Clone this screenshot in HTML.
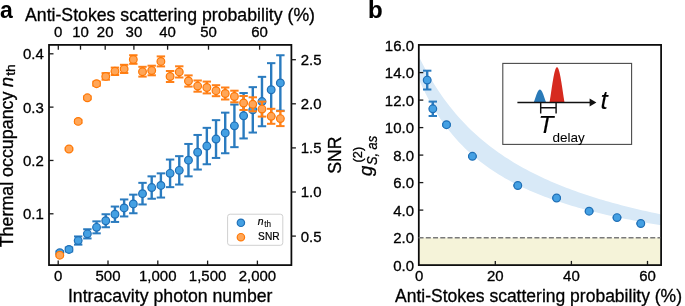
<!DOCTYPE html>
<html><head><meta charset="utf-8"><style>html,body{margin:0;padding:0;background:#fff;}svg{display:block;will-change:transform;}text{stroke:#000;stroke-width:0.3px;}</style></head>
<body>
<svg width="685" height="306" viewBox="0 0 685 306" font-family="Liberation Sans" fill="#000">
<rect width="685" height="306" fill="#fff"/>
<text x="0.00" y="17.60" font-size="23" text-anchor="start" font-weight="bold" font-style="normal" style="stroke-width:0">a</text>
<text x="368.00" y="18.00" font-size="24" text-anchor="start" font-weight="bold" font-style="normal" style="stroke-width:0.15px">b</text>
<line x1="59.80" y1="251.25" x2="59.80" y2="254.25" stroke="#2a7bbf" stroke-width="2.4"/>
<line x1="55.60" y1="251.25" x2="64.00" y2="251.25" stroke="#2a7bbf" stroke-width="2.0"/>
<line x1="55.60" y1="254.25" x2="64.00" y2="254.25" stroke="#2a7bbf" stroke-width="2.0"/>
<line x1="68.99" y1="247.45" x2="68.99" y2="251.45" stroke="#2a7bbf" stroke-width="2.4"/>
<line x1="64.79" y1="247.45" x2="73.19" y2="247.45" stroke="#2a7bbf" stroke-width="2.0"/>
<line x1="64.79" y1="251.45" x2="73.19" y2="251.45" stroke="#2a7bbf" stroke-width="2.0"/>
<line x1="78.18" y1="236.45" x2="78.18" y2="244.65" stroke="#2a7bbf" stroke-width="2.4"/>
<line x1="73.98" y1="236.45" x2="82.38" y2="236.45" stroke="#2a7bbf" stroke-width="2.0"/>
<line x1="73.98" y1="244.65" x2="82.38" y2="244.65" stroke="#2a7bbf" stroke-width="2.0"/>
<line x1="87.37" y1="229.25" x2="87.37" y2="238.45" stroke="#2a7bbf" stroke-width="2.4"/>
<line x1="83.17" y1="229.25" x2="91.57" y2="229.25" stroke="#2a7bbf" stroke-width="2.0"/>
<line x1="83.17" y1="238.45" x2="91.57" y2="238.45" stroke="#2a7bbf" stroke-width="2.0"/>
<line x1="96.56" y1="221.35" x2="96.56" y2="233.35" stroke="#2a7bbf" stroke-width="2.4"/>
<line x1="92.36" y1="221.35" x2="100.76" y2="221.35" stroke="#2a7bbf" stroke-width="2.0"/>
<line x1="92.36" y1="233.35" x2="100.76" y2="233.35" stroke="#2a7bbf" stroke-width="2.0"/>
<line x1="105.75" y1="214.25" x2="105.75" y2="227.25" stroke="#2a7bbf" stroke-width="2.4"/>
<line x1="101.55" y1="214.25" x2="109.95" y2="214.25" stroke="#2a7bbf" stroke-width="2.0"/>
<line x1="101.55" y1="227.25" x2="109.95" y2="227.25" stroke="#2a7bbf" stroke-width="2.0"/>
<line x1="114.94" y1="206.55" x2="114.94" y2="221.95" stroke="#2a7bbf" stroke-width="2.4"/>
<line x1="110.74" y1="206.55" x2="119.14" y2="206.55" stroke="#2a7bbf" stroke-width="2.0"/>
<line x1="110.74" y1="221.95" x2="119.14" y2="221.95" stroke="#2a7bbf" stroke-width="2.0"/>
<line x1="124.13" y1="199.45" x2="124.13" y2="216.45" stroke="#2a7bbf" stroke-width="2.4"/>
<line x1="119.93" y1="199.45" x2="128.33" y2="199.45" stroke="#2a7bbf" stroke-width="2.0"/>
<line x1="119.93" y1="216.45" x2="128.33" y2="216.45" stroke="#2a7bbf" stroke-width="2.0"/>
<line x1="133.32" y1="194.65" x2="133.32" y2="213.25" stroke="#2a7bbf" stroke-width="2.4"/>
<line x1="129.12" y1="194.65" x2="137.52" y2="194.65" stroke="#2a7bbf" stroke-width="2.0"/>
<line x1="129.12" y1="213.25" x2="137.52" y2="213.25" stroke="#2a7bbf" stroke-width="2.0"/>
<line x1="142.51" y1="182.85" x2="142.51" y2="204.45" stroke="#2a7bbf" stroke-width="2.4"/>
<line x1="138.31" y1="182.85" x2="146.71" y2="182.85" stroke="#2a7bbf" stroke-width="2.0"/>
<line x1="138.31" y1="204.45" x2="146.71" y2="204.45" stroke="#2a7bbf" stroke-width="2.0"/>
<line x1="151.70" y1="176.35" x2="151.70" y2="198.75" stroke="#2a7bbf" stroke-width="2.4"/>
<line x1="147.50" y1="176.35" x2="155.90" y2="176.35" stroke="#2a7bbf" stroke-width="2.0"/>
<line x1="147.50" y1="198.75" x2="155.90" y2="198.75" stroke="#2a7bbf" stroke-width="2.0"/>
<line x1="160.89" y1="173.35" x2="160.89" y2="197.55" stroke="#2a7bbf" stroke-width="2.4"/>
<line x1="156.69" y1="173.35" x2="165.09" y2="173.35" stroke="#2a7bbf" stroke-width="2.0"/>
<line x1="156.69" y1="197.55" x2="165.09" y2="197.55" stroke="#2a7bbf" stroke-width="2.0"/>
<line x1="170.08" y1="159.55" x2="170.08" y2="187.15" stroke="#2a7bbf" stroke-width="2.4"/>
<line x1="165.88" y1="159.55" x2="174.28" y2="159.55" stroke="#2a7bbf" stroke-width="2.0"/>
<line x1="165.88" y1="187.15" x2="174.28" y2="187.15" stroke="#2a7bbf" stroke-width="2.0"/>
<line x1="179.27" y1="156.15" x2="179.27" y2="184.55" stroke="#2a7bbf" stroke-width="2.4"/>
<line x1="175.07" y1="156.15" x2="183.47" y2="156.15" stroke="#2a7bbf" stroke-width="2.0"/>
<line x1="175.07" y1="184.55" x2="183.47" y2="184.55" stroke="#2a7bbf" stroke-width="2.0"/>
<line x1="188.46" y1="143.95" x2="188.46" y2="176.35" stroke="#2a7bbf" stroke-width="2.4"/>
<line x1="184.26" y1="143.95" x2="192.66" y2="143.95" stroke="#2a7bbf" stroke-width="2.0"/>
<line x1="184.26" y1="176.35" x2="192.66" y2="176.35" stroke="#2a7bbf" stroke-width="2.0"/>
<line x1="197.65" y1="134.95" x2="197.65" y2="169.55" stroke="#2a7bbf" stroke-width="2.4"/>
<line x1="193.45" y1="134.95" x2="201.85" y2="134.95" stroke="#2a7bbf" stroke-width="2.0"/>
<line x1="193.45" y1="169.55" x2="201.85" y2="169.55" stroke="#2a7bbf" stroke-width="2.0"/>
<line x1="206.84" y1="127.85" x2="206.84" y2="164.25" stroke="#2a7bbf" stroke-width="2.4"/>
<line x1="202.64" y1="127.85" x2="211.04" y2="127.85" stroke="#2a7bbf" stroke-width="2.0"/>
<line x1="202.64" y1="164.25" x2="211.04" y2="164.25" stroke="#2a7bbf" stroke-width="2.0"/>
<line x1="216.03" y1="120.15" x2="216.03" y2="157.95" stroke="#2a7bbf" stroke-width="2.4"/>
<line x1="211.83" y1="120.15" x2="220.23" y2="120.15" stroke="#2a7bbf" stroke-width="2.0"/>
<line x1="211.83" y1="157.95" x2="220.23" y2="157.95" stroke="#2a7bbf" stroke-width="2.0"/>
<line x1="225.22" y1="112.65" x2="225.22" y2="153.25" stroke="#2a7bbf" stroke-width="2.4"/>
<line x1="221.02" y1="112.65" x2="229.42" y2="112.65" stroke="#2a7bbf" stroke-width="2.0"/>
<line x1="221.02" y1="153.25" x2="229.42" y2="153.25" stroke="#2a7bbf" stroke-width="2.0"/>
<line x1="234.41" y1="104.55" x2="234.41" y2="147.15" stroke="#2a7bbf" stroke-width="2.4"/>
<line x1="230.21" y1="104.55" x2="238.61" y2="104.55" stroke="#2a7bbf" stroke-width="2.0"/>
<line x1="230.21" y1="147.15" x2="238.61" y2="147.15" stroke="#2a7bbf" stroke-width="2.0"/>
<line x1="243.60" y1="93.05" x2="243.60" y2="138.45" stroke="#2a7bbf" stroke-width="2.4"/>
<line x1="239.40" y1="93.05" x2="247.80" y2="93.05" stroke="#2a7bbf" stroke-width="2.0"/>
<line x1="239.40" y1="138.45" x2="247.80" y2="138.45" stroke="#2a7bbf" stroke-width="2.0"/>
<line x1="252.79" y1="87.15" x2="252.79" y2="132.55" stroke="#2a7bbf" stroke-width="2.4"/>
<line x1="248.59" y1="87.15" x2="256.99" y2="87.15" stroke="#2a7bbf" stroke-width="2.0"/>
<line x1="248.59" y1="132.55" x2="256.99" y2="132.55" stroke="#2a7bbf" stroke-width="2.0"/>
<line x1="261.98" y1="76.85" x2="261.98" y2="126.25" stroke="#2a7bbf" stroke-width="2.4"/>
<line x1="257.78" y1="76.85" x2="266.18" y2="76.85" stroke="#2a7bbf" stroke-width="2.0"/>
<line x1="257.78" y1="126.25" x2="266.18" y2="126.25" stroke="#2a7bbf" stroke-width="2.0"/>
<line x1="271.17" y1="63.15" x2="271.17" y2="116.35" stroke="#2a7bbf" stroke-width="2.4"/>
<line x1="266.97" y1="63.15" x2="275.37" y2="63.15" stroke="#2a7bbf" stroke-width="2.0"/>
<line x1="266.97" y1="116.35" x2="275.37" y2="116.35" stroke="#2a7bbf" stroke-width="2.0"/>
<line x1="280.36" y1="55.25" x2="280.36" y2="110.65" stroke="#2a7bbf" stroke-width="2.4"/>
<line x1="276.16" y1="55.25" x2="284.56" y2="55.25" stroke="#2a7bbf" stroke-width="2.0"/>
<line x1="276.16" y1="110.65" x2="284.56" y2="110.65" stroke="#2a7bbf" stroke-width="2.0"/>
<circle cx="59.80" cy="252.75" r="3.85" fill="#44a0e3" stroke="#1f6fb6" stroke-width="1.2"/>
<circle cx="68.99" cy="249.45" r="3.85" fill="#44a0e3" stroke="#1f6fb6" stroke-width="1.2"/>
<circle cx="78.18" cy="240.55" r="3.85" fill="#44a0e3" stroke="#1f6fb6" stroke-width="1.2"/>
<circle cx="87.37" cy="233.85" r="3.85" fill="#44a0e3" stroke="#1f6fb6" stroke-width="1.2"/>
<circle cx="96.56" cy="227.35" r="3.85" fill="#44a0e3" stroke="#1f6fb6" stroke-width="1.2"/>
<circle cx="105.75" cy="220.75" r="3.85" fill="#44a0e3" stroke="#1f6fb6" stroke-width="1.2"/>
<circle cx="114.94" cy="214.25" r="3.85" fill="#44a0e3" stroke="#1f6fb6" stroke-width="1.2"/>
<circle cx="124.13" cy="207.95" r="3.85" fill="#44a0e3" stroke="#1f6fb6" stroke-width="1.2"/>
<circle cx="133.32" cy="203.95" r="3.85" fill="#44a0e3" stroke="#1f6fb6" stroke-width="1.2"/>
<circle cx="142.51" cy="193.65" r="3.85" fill="#44a0e3" stroke="#1f6fb6" stroke-width="1.2"/>
<circle cx="151.70" cy="187.55" r="3.85" fill="#44a0e3" stroke="#1f6fb6" stroke-width="1.2"/>
<circle cx="160.89" cy="185.45" r="3.85" fill="#44a0e3" stroke="#1f6fb6" stroke-width="1.2"/>
<circle cx="170.08" cy="173.35" r="3.85" fill="#44a0e3" stroke="#1f6fb6" stroke-width="1.2"/>
<circle cx="179.27" cy="170.35" r="3.85" fill="#44a0e3" stroke="#1f6fb6" stroke-width="1.2"/>
<circle cx="188.46" cy="160.15" r="3.85" fill="#44a0e3" stroke="#1f6fb6" stroke-width="1.2"/>
<circle cx="197.65" cy="152.25" r="3.85" fill="#44a0e3" stroke="#1f6fb6" stroke-width="1.2"/>
<circle cx="206.84" cy="146.05" r="3.85" fill="#44a0e3" stroke="#1f6fb6" stroke-width="1.2"/>
<circle cx="216.03" cy="139.05" r="3.85" fill="#44a0e3" stroke="#1f6fb6" stroke-width="1.2"/>
<circle cx="225.22" cy="132.95" r="3.85" fill="#44a0e3" stroke="#1f6fb6" stroke-width="1.2"/>
<circle cx="234.41" cy="125.85" r="3.85" fill="#44a0e3" stroke="#1f6fb6" stroke-width="1.2"/>
<circle cx="243.60" cy="115.75" r="3.85" fill="#44a0e3" stroke="#1f6fb6" stroke-width="1.2"/>
<circle cx="252.79" cy="109.85" r="3.85" fill="#44a0e3" stroke="#1f6fb6" stroke-width="1.2"/>
<circle cx="261.98" cy="101.55" r="3.85" fill="#44a0e3" stroke="#1f6fb6" stroke-width="1.2"/>
<circle cx="271.17" cy="89.75" r="3.85" fill="#44a0e3" stroke="#1f6fb6" stroke-width="1.2"/>
<circle cx="280.36" cy="82.95" r="3.85" fill="#44a0e3" stroke="#1f6fb6" stroke-width="1.2"/>
<line x1="59.80" y1="254.20" x2="59.80" y2="256.20" stroke="#ff8018" stroke-width="2.4"/>
<line x1="55.60" y1="254.20" x2="64.00" y2="254.20" stroke="#ff8018" stroke-width="2.0"/>
<line x1="55.60" y1="256.20" x2="64.00" y2="256.20" stroke="#ff8018" stroke-width="2.0"/>
<line x1="68.99" y1="148.00" x2="68.99" y2="150.00" stroke="#ff8018" stroke-width="2.4"/>
<line x1="64.79" y1="148.00" x2="73.19" y2="148.00" stroke="#ff8018" stroke-width="2.0"/>
<line x1="64.79" y1="150.00" x2="73.19" y2="150.00" stroke="#ff8018" stroke-width="2.0"/>
<line x1="78.18" y1="119.90" x2="78.18" y2="122.90" stroke="#ff8018" stroke-width="2.4"/>
<line x1="73.98" y1="119.90" x2="82.38" y2="119.90" stroke="#ff8018" stroke-width="2.0"/>
<line x1="73.98" y1="122.90" x2="82.38" y2="122.90" stroke="#ff8018" stroke-width="2.0"/>
<line x1="87.37" y1="96.30" x2="87.37" y2="99.30" stroke="#ff8018" stroke-width="2.4"/>
<line x1="83.17" y1="96.30" x2="91.57" y2="96.30" stroke="#ff8018" stroke-width="2.0"/>
<line x1="83.17" y1="99.30" x2="91.57" y2="99.30" stroke="#ff8018" stroke-width="2.0"/>
<line x1="96.56" y1="81.70" x2="96.56" y2="85.70" stroke="#ff8018" stroke-width="2.4"/>
<line x1="92.36" y1="81.70" x2="100.76" y2="81.70" stroke="#ff8018" stroke-width="2.0"/>
<line x1="92.36" y1="85.70" x2="100.76" y2="85.70" stroke="#ff8018" stroke-width="2.0"/>
<line x1="105.75" y1="73.10" x2="105.75" y2="79.70" stroke="#ff8018" stroke-width="2.4"/>
<line x1="101.55" y1="73.10" x2="109.95" y2="73.10" stroke="#ff8018" stroke-width="2.0"/>
<line x1="101.55" y1="79.70" x2="109.95" y2="79.70" stroke="#ff8018" stroke-width="2.0"/>
<line x1="114.94" y1="67.60" x2="114.94" y2="75.00" stroke="#ff8018" stroke-width="2.4"/>
<line x1="110.74" y1="67.60" x2="119.14" y2="67.60" stroke="#ff8018" stroke-width="2.0"/>
<line x1="110.74" y1="75.00" x2="119.14" y2="75.00" stroke="#ff8018" stroke-width="2.0"/>
<line x1="124.13" y1="64.80" x2="124.13" y2="73.00" stroke="#ff8018" stroke-width="2.4"/>
<line x1="119.93" y1="64.80" x2="128.33" y2="64.80" stroke="#ff8018" stroke-width="2.0"/>
<line x1="119.93" y1="73.00" x2="128.33" y2="73.00" stroke="#ff8018" stroke-width="2.0"/>
<line x1="133.32" y1="55.20" x2="133.32" y2="63.80" stroke="#ff8018" stroke-width="2.4"/>
<line x1="129.12" y1="55.20" x2="137.52" y2="55.20" stroke="#ff8018" stroke-width="2.0"/>
<line x1="129.12" y1="63.80" x2="137.52" y2="63.80" stroke="#ff8018" stroke-width="2.0"/>
<line x1="142.51" y1="66.80" x2="142.51" y2="76.60" stroke="#ff8018" stroke-width="2.4"/>
<line x1="138.31" y1="66.80" x2="146.71" y2="66.80" stroke="#ff8018" stroke-width="2.0"/>
<line x1="138.31" y1="76.60" x2="146.71" y2="76.60" stroke="#ff8018" stroke-width="2.0"/>
<line x1="151.70" y1="65.70" x2="151.70" y2="75.30" stroke="#ff8018" stroke-width="2.4"/>
<line x1="147.50" y1="65.70" x2="155.90" y2="65.70" stroke="#ff8018" stroke-width="2.0"/>
<line x1="147.50" y1="75.30" x2="155.90" y2="75.30" stroke="#ff8018" stroke-width="2.0"/>
<line x1="160.89" y1="56.40" x2="160.89" y2="66.40" stroke="#ff8018" stroke-width="2.4"/>
<line x1="156.69" y1="56.40" x2="165.09" y2="56.40" stroke="#ff8018" stroke-width="2.0"/>
<line x1="156.69" y1="66.40" x2="165.09" y2="66.40" stroke="#ff8018" stroke-width="2.0"/>
<line x1="170.08" y1="71.00" x2="170.08" y2="82.00" stroke="#ff8018" stroke-width="2.4"/>
<line x1="165.88" y1="71.00" x2="174.28" y2="71.00" stroke="#ff8018" stroke-width="2.0"/>
<line x1="165.88" y1="82.00" x2="174.28" y2="82.00" stroke="#ff8018" stroke-width="2.0"/>
<line x1="179.27" y1="66.30" x2="179.27" y2="77.50" stroke="#ff8018" stroke-width="2.4"/>
<line x1="175.07" y1="66.30" x2="183.47" y2="66.30" stroke="#ff8018" stroke-width="2.0"/>
<line x1="175.07" y1="77.50" x2="183.47" y2="77.50" stroke="#ff8018" stroke-width="2.0"/>
<line x1="188.46" y1="75.40" x2="188.46" y2="86.60" stroke="#ff8018" stroke-width="2.4"/>
<line x1="184.26" y1="75.40" x2="192.66" y2="75.40" stroke="#ff8018" stroke-width="2.0"/>
<line x1="184.26" y1="86.60" x2="192.66" y2="86.60" stroke="#ff8018" stroke-width="2.0"/>
<line x1="197.65" y1="80.50" x2="197.65" y2="91.70" stroke="#ff8018" stroke-width="2.4"/>
<line x1="193.45" y1="80.50" x2="201.85" y2="80.50" stroke="#ff8018" stroke-width="2.0"/>
<line x1="193.45" y1="91.70" x2="201.85" y2="91.70" stroke="#ff8018" stroke-width="2.0"/>
<line x1="206.84" y1="81.60" x2="206.84" y2="93.40" stroke="#ff8018" stroke-width="2.4"/>
<line x1="202.64" y1="81.60" x2="211.04" y2="81.60" stroke="#ff8018" stroke-width="2.0"/>
<line x1="202.64" y1="93.40" x2="211.04" y2="93.40" stroke="#ff8018" stroke-width="2.0"/>
<line x1="216.03" y1="85.20" x2="216.03" y2="96.20" stroke="#ff8018" stroke-width="2.4"/>
<line x1="211.83" y1="85.20" x2="220.23" y2="85.20" stroke="#ff8018" stroke-width="2.0"/>
<line x1="211.83" y1="96.20" x2="220.23" y2="96.20" stroke="#ff8018" stroke-width="2.0"/>
<line x1="225.22" y1="87.50" x2="225.22" y2="99.50" stroke="#ff8018" stroke-width="2.4"/>
<line x1="221.02" y1="87.50" x2="229.42" y2="87.50" stroke="#ff8018" stroke-width="2.0"/>
<line x1="221.02" y1="99.50" x2="229.42" y2="99.50" stroke="#ff8018" stroke-width="2.0"/>
<line x1="234.41" y1="90.70" x2="234.41" y2="102.30" stroke="#ff8018" stroke-width="2.4"/>
<line x1="230.21" y1="90.70" x2="238.61" y2="90.70" stroke="#ff8018" stroke-width="2.0"/>
<line x1="230.21" y1="102.30" x2="238.61" y2="102.30" stroke="#ff8018" stroke-width="2.0"/>
<line x1="243.60" y1="96.00" x2="243.60" y2="110.00" stroke="#ff8018" stroke-width="2.4"/>
<line x1="239.40" y1="96.00" x2="247.80" y2="96.00" stroke="#ff8018" stroke-width="2.0"/>
<line x1="239.40" y1="110.00" x2="247.80" y2="110.00" stroke="#ff8018" stroke-width="2.0"/>
<line x1="252.79" y1="97.30" x2="252.79" y2="111.30" stroke="#ff8018" stroke-width="2.4"/>
<line x1="248.59" y1="97.30" x2="256.99" y2="97.30" stroke="#ff8018" stroke-width="2.0"/>
<line x1="248.59" y1="111.30" x2="256.99" y2="111.30" stroke="#ff8018" stroke-width="2.0"/>
<line x1="261.98" y1="101.60" x2="261.98" y2="116.60" stroke="#ff8018" stroke-width="2.4"/>
<line x1="257.78" y1="101.60" x2="266.18" y2="101.60" stroke="#ff8018" stroke-width="2.0"/>
<line x1="257.78" y1="116.60" x2="266.18" y2="116.60" stroke="#ff8018" stroke-width="2.0"/>
<line x1="271.17" y1="108.80" x2="271.17" y2="123.80" stroke="#ff8018" stroke-width="2.4"/>
<line x1="266.97" y1="108.80" x2="275.37" y2="108.80" stroke="#ff8018" stroke-width="2.0"/>
<line x1="266.97" y1="123.80" x2="275.37" y2="123.80" stroke="#ff8018" stroke-width="2.0"/>
<line x1="280.36" y1="111.10" x2="280.36" y2="126.10" stroke="#ff8018" stroke-width="2.4"/>
<line x1="276.16" y1="111.10" x2="284.56" y2="111.10" stroke="#ff8018" stroke-width="2.0"/>
<line x1="276.16" y1="126.10" x2="284.56" y2="126.10" stroke="#ff8018" stroke-width="2.0"/>
<circle cx="59.80" cy="255.20" r="3.85" fill="#ffa658" stroke="#ff7806" stroke-width="1.2"/>
<circle cx="68.99" cy="149.00" r="3.85" fill="#ffa658" stroke="#ff7806" stroke-width="1.2"/>
<circle cx="78.18" cy="121.40" r="3.85" fill="#ffa658" stroke="#ff7806" stroke-width="1.2"/>
<circle cx="87.37" cy="97.80" r="3.85" fill="#ffa658" stroke="#ff7806" stroke-width="1.2"/>
<circle cx="96.56" cy="83.70" r="3.85" fill="#ffa658" stroke="#ff7806" stroke-width="1.2"/>
<circle cx="105.75" cy="76.40" r="3.85" fill="#ffa658" stroke="#ff7806" stroke-width="1.2"/>
<circle cx="114.94" cy="71.30" r="3.85" fill="#ffa658" stroke="#ff7806" stroke-width="1.2"/>
<circle cx="124.13" cy="68.90" r="3.85" fill="#ffa658" stroke="#ff7806" stroke-width="1.2"/>
<circle cx="133.32" cy="59.50" r="3.85" fill="#ffa658" stroke="#ff7806" stroke-width="1.2"/>
<circle cx="142.51" cy="71.70" r="3.85" fill="#ffa658" stroke="#ff7806" stroke-width="1.2"/>
<circle cx="151.70" cy="70.50" r="3.85" fill="#ffa658" stroke="#ff7806" stroke-width="1.2"/>
<circle cx="160.89" cy="61.40" r="3.85" fill="#ffa658" stroke="#ff7806" stroke-width="1.2"/>
<circle cx="170.08" cy="76.50" r="3.85" fill="#ffa658" stroke="#ff7806" stroke-width="1.2"/>
<circle cx="179.27" cy="71.90" r="3.85" fill="#ffa658" stroke="#ff7806" stroke-width="1.2"/>
<circle cx="188.46" cy="81.00" r="3.85" fill="#ffa658" stroke="#ff7806" stroke-width="1.2"/>
<circle cx="197.65" cy="86.10" r="3.85" fill="#ffa658" stroke="#ff7806" stroke-width="1.2"/>
<circle cx="206.84" cy="87.50" r="3.85" fill="#ffa658" stroke="#ff7806" stroke-width="1.2"/>
<circle cx="216.03" cy="90.70" r="3.85" fill="#ffa658" stroke="#ff7806" stroke-width="1.2"/>
<circle cx="225.22" cy="93.50" r="3.85" fill="#ffa658" stroke="#ff7806" stroke-width="1.2"/>
<circle cx="234.41" cy="96.50" r="3.85" fill="#ffa658" stroke="#ff7806" stroke-width="1.2"/>
<circle cx="243.60" cy="103.00" r="3.85" fill="#ffa658" stroke="#ff7806" stroke-width="1.2"/>
<circle cx="252.79" cy="104.30" r="3.85" fill="#ffa658" stroke="#ff7806" stroke-width="1.2"/>
<circle cx="261.98" cy="109.10" r="3.85" fill="#ffa658" stroke="#ff7806" stroke-width="1.2"/>
<circle cx="271.17" cy="116.30" r="3.85" fill="#ffa658" stroke="#ff7806" stroke-width="1.2"/>
<circle cx="280.36" cy="118.60" r="3.85" fill="#ffa658" stroke="#ff7806" stroke-width="1.2"/>
<rect x="49.0" y="44.9" width="242.39999999999998" height="220.20000000000002" fill="none" stroke="#0a0a0a" stroke-width="1.75"/>
<line x1="58.20" y1="265.1" x2="58.20" y2="260.6" stroke="#1a1a1a" stroke-width="1.3"/>
<text transform="translate(0,275.63) scale(1,1.035) translate(0,-275.63)" x="58.20" y="281.00" font-size="15" text-anchor="middle">0</text>
<line x1="108.00" y1="265.1" x2="108.00" y2="260.6" stroke="#1a1a1a" stroke-width="1.3"/>
<text transform="translate(0,275.63) scale(1,1.035) translate(0,-275.63)" x="108.00" y="281.00" font-size="15" text-anchor="middle">500</text>
<line x1="157.80" y1="265.1" x2="157.80" y2="260.6" stroke="#1a1a1a" stroke-width="1.3"/>
<text transform="translate(0,275.63) scale(1,1.035) translate(0,-275.63)" x="157.80" y="281.00" font-size="15" text-anchor="middle">1,000</text>
<line x1="207.60" y1="265.1" x2="207.60" y2="260.6" stroke="#1a1a1a" stroke-width="1.3"/>
<text transform="translate(0,275.63) scale(1,1.035) translate(0,-275.63)" x="207.60" y="281.00" font-size="15" text-anchor="middle">1,500</text>
<line x1="257.40" y1="265.1" x2="257.40" y2="260.6" stroke="#1a1a1a" stroke-width="1.3"/>
<text transform="translate(0,275.63) scale(1,1.035) translate(0,-275.63)" x="257.40" y="281.00" font-size="15" text-anchor="middle">2,000</text>
<line x1="58.30" y1="44.9" x2="58.30" y2="49.699999999999996" stroke="#1a1a1a" stroke-width="1.3"/>
<text transform="translate(0,31.83) scale(1,1.035) translate(0,-31.83)" x="58.30" y="37.20" font-size="15" text-anchor="middle">0</text>
<line x1="80.50" y1="44.9" x2="80.50" y2="49.699999999999996" stroke="#1a1a1a" stroke-width="1.3"/>
<text transform="translate(0,31.83) scale(1,1.035) translate(0,-31.83)" x="80.50" y="37.20" font-size="15" text-anchor="middle">10</text>
<line x1="105.20" y1="44.9" x2="105.20" y2="49.699999999999996" stroke="#1a1a1a" stroke-width="1.3"/>
<text transform="translate(0,31.83) scale(1,1.035) translate(0,-31.83)" x="105.20" y="37.20" font-size="15" text-anchor="middle">20</text>
<line x1="133.90" y1="44.9" x2="133.90" y2="49.699999999999996" stroke="#1a1a1a" stroke-width="1.3"/>
<text transform="translate(0,31.83) scale(1,1.035) translate(0,-31.83)" x="133.90" y="37.20" font-size="15" text-anchor="middle">30</text>
<line x1="167.60" y1="44.9" x2="167.60" y2="49.699999999999996" stroke="#1a1a1a" stroke-width="1.3"/>
<text transform="translate(0,31.83) scale(1,1.035) translate(0,-31.83)" x="167.60" y="37.20" font-size="15" text-anchor="middle">40</text>
<line x1="208.50" y1="44.9" x2="208.50" y2="49.699999999999996" stroke="#1a1a1a" stroke-width="1.3"/>
<text transform="translate(0,31.83) scale(1,1.035) translate(0,-31.83)" x="208.50" y="37.20" font-size="15" text-anchor="middle">50</text>
<line x1="259.60" y1="44.9" x2="259.60" y2="49.699999999999996" stroke="#1a1a1a" stroke-width="1.3"/>
<text transform="translate(0,31.83) scale(1,1.035) translate(0,-31.83)" x="259.60" y="37.20" font-size="15" text-anchor="middle">60</text>
<line x1="49.0" y1="213.79" x2="53.5" y2="213.79" stroke="#1a1a1a" stroke-width="1.3"/>
<text transform="translate(0,213.72) scale(1,1.035) translate(0,-213.72)" x="43.80" y="219.09" font-size="15" text-anchor="end">0.1</text>
<line x1="49.0" y1="160.46" x2="53.5" y2="160.46" stroke="#1a1a1a" stroke-width="1.3"/>
<text transform="translate(0,160.39) scale(1,1.035) translate(0,-160.39)" x="43.80" y="165.76" font-size="15" text-anchor="end">0.2</text>
<line x1="49.0" y1="107.13" x2="53.5" y2="107.13" stroke="#1a1a1a" stroke-width="1.3"/>
<text transform="translate(0,107.06) scale(1,1.035) translate(0,-107.06)" x="43.80" y="112.43" font-size="15" text-anchor="end">0.3</text>
<line x1="49.0" y1="53.80" x2="53.5" y2="53.80" stroke="#1a1a1a" stroke-width="1.3"/>
<text transform="translate(0,53.73) scale(1,1.035) translate(0,-53.73)" x="43.80" y="59.10" font-size="15" text-anchor="end">0.4</text>
<line x1="291.4" y1="236.10" x2="295.9" y2="236.10" stroke="#1a1a1a" stroke-width="1.3"/>
<text transform="translate(0,236.03) scale(1,1.035) translate(0,-236.03)" x="300.80" y="241.40" font-size="15" text-anchor="start">0.5</text>
<line x1="291.4" y1="192.00" x2="295.9" y2="192.00" stroke="#1a1a1a" stroke-width="1.3"/>
<text transform="translate(0,191.93) scale(1,1.035) translate(0,-191.93)" x="300.80" y="197.30" font-size="15" text-anchor="start">1.0</text>
<line x1="291.4" y1="147.90" x2="295.9" y2="147.90" stroke="#1a1a1a" stroke-width="1.3"/>
<text transform="translate(0,147.83) scale(1,1.035) translate(0,-147.83)" x="300.80" y="153.20" font-size="15" text-anchor="start">1.5</text>
<line x1="291.4" y1="103.80" x2="295.9" y2="103.80" stroke="#1a1a1a" stroke-width="1.3"/>
<text transform="translate(0,103.73) scale(1,1.035) translate(0,-103.73)" x="300.80" y="109.10" font-size="15" text-anchor="start">2.0</text>
<line x1="291.4" y1="59.70" x2="295.9" y2="59.70" stroke="#1a1a1a" stroke-width="1.3"/>
<text transform="translate(0,59.63) scale(1,1.035) translate(0,-59.63)" x="300.80" y="65.00" font-size="15" text-anchor="start">2.5</text>
<text x="170.00" y="21.00" font-size="17.7" text-anchor="middle" font-weight="normal" font-style="normal" >Anti-Stokes scattering probability (%)</text>
<text x="170.20" y="301.70" font-size="17.7" text-anchor="middle" font-weight="normal" font-style="normal" >Intracavity photon number</text>
<g transform="translate(13.2,247.3) rotate(-90)"><text x="0" y="0" font-size="17.85">Thermal occupancy </text><text x="160.3" y="0" font-size="18" font-style="italic">n</text><text x="171.5" y="1.8" font-size="12.2" textLength="11.6" lengthAdjust="spacingAndGlyphs">th</text></g>
<text transform="translate(341.0,155.1) rotate(-90)" font-size="17.7" text-anchor="middle">SNR</text>
<rect x="227.6" y="214.2" width="55.2" height="31.1" rx="2.5" fill="#fff" fill-opacity="0.85" stroke="#d0d0d0" stroke-width="1"/>
<circle cx="240.9" cy="222.8" r="3.7" fill="#44a0e3" stroke="#1f6fb6" stroke-width="1.2"/>
<circle cx="240.9" cy="237.2" r="3.7" fill="#ffa658" stroke="#ff7806" stroke-width="1.2"/>
<text x="257.8" y="225.3" font-size="10.4" font-style="italic" style="stroke-width:0.2px">n</text><text x="264.3" y="227.0" font-size="8.2" textLength="6.8" lengthAdjust="spacingAndGlyphs" style="stroke-width:0.1px">th</text>
<text x="258.1" y="240.2" font-size="10.2" style="stroke-width:0.2px">SNR</text>
<rect x="418.8" y="237.8" width="242.3" height="27.30" fill="#f5f3d9"/>
<clipPath id="cb"><rect x="418.8" y="44.9" width="242.3" height="220.20000000000002"/></clipPath>
<path d="M419.20,57.17 L422.26,63.29 L425.32,69.09 L428.39,74.60 L431.45,79.84 L434.51,84.82 L437.57,89.57 L440.63,94.11 L443.70,98.44 L446.76,102.58 L449.82,106.54 L452.88,110.33 L455.94,113.97 L459.01,117.47 L462.07,120.82 L465.13,124.05 L468.19,127.15 L471.25,130.13 L474.32,133.01 L477.38,135.78 L480.44,138.46 L483.50,141.04 L486.56,143.54 L489.63,145.95 L492.69,148.28 L495.75,150.53 L498.81,152.72 L501.87,154.83 L504.94,156.88 L508.00,158.87 L511.06,160.79 L514.12,162.66 L517.18,164.48 L520.25,166.24 L523.31,167.96 L526.37,169.62 L529.43,171.24 L532.49,172.82 L535.56,174.35 L538.62,175.84 L541.68,177.30 L544.74,178.71 L547.81,180.10 L550.87,181.44 L553.93,182.75 L556.99,184.03 L560.05,185.28 L563.12,186.50 L566.18,187.69 L569.24,188.85 L572.30,189.99 L575.36,191.10 L578.43,192.18 L581.49,193.25 L584.55,194.28 L587.61,195.30 L590.67,196.29 L593.74,197.26 L596.80,198.21 L599.86,199.14 L602.92,200.05 L605.98,200.95 L609.05,201.82 L612.11,202.68 L615.17,203.52 L618.23,204.34 L621.29,205.15 L624.36,205.94 L627.42,206.72 L630.48,207.48 L633.54,208.23 L636.60,208.96 L639.67,209.68 L642.73,210.39 L645.79,211.09 L648.85,211.77 L651.91,212.44 L654.98,213.10 L658.04,213.74 L661.10,214.38 L661.10,225.18 L658.04,224.69 L654.98,224.20 L651.91,223.69 L648.85,223.17 L645.79,222.64 L642.73,222.11 L639.67,221.56 L636.60,221.00 L633.54,220.43 L630.48,219.85 L627.42,219.25 L624.36,218.65 L621.29,218.03 L618.23,217.39 L615.17,216.75 L612.11,216.08 L609.05,215.41 L605.98,214.72 L602.92,214.01 L599.86,213.29 L596.80,212.55 L593.74,211.79 L590.67,211.02 L587.61,210.22 L584.55,209.41 L581.49,208.58 L578.43,207.72 L575.36,206.85 L572.30,205.95 L569.24,205.03 L566.18,204.09 L563.12,203.12 L560.05,202.12 L556.99,201.10 L553.93,200.05 L550.87,198.96 L547.81,197.85 L544.74,196.71 L541.68,195.53 L538.62,194.32 L535.56,193.07 L532.49,191.78 L529.43,190.45 L526.37,189.08 L523.31,187.67 L520.25,186.21 L517.18,184.70 L514.12,183.14 L511.06,181.53 L508.00,179.86 L504.94,178.13 L501.87,176.34 L498.81,174.49 L495.75,172.56 L492.69,170.56 L489.63,168.48 L486.56,166.32 L483.50,164.07 L480.44,161.73 L477.38,159.28 L474.32,156.74 L471.25,154.08 L468.19,151.30 L465.13,148.39 L462.07,145.34 L459.01,142.14 L455.94,138.79 L452.88,135.27 L449.82,131.56 L446.76,127.65 L443.70,123.53 L440.63,119.17 L437.57,114.56 L434.51,109.67 L431.45,104.47 L428.39,98.95 L425.32,93.05 L422.26,86.76 L419.20,80.02 Z" fill="#d8e9f7" clip-path="url(#cb)"/>
<line x1="427.20" y1="70.70" x2="427.20" y2="89.50" stroke="#2a7bbf" stroke-width="2.4"/>
<line x1="423.00" y1="70.70" x2="431.40" y2="70.70" stroke="#2a7bbf" stroke-width="2.0"/>
<line x1="423.00" y1="89.50" x2="431.40" y2="89.50" stroke="#2a7bbf" stroke-width="2.0"/>
<line x1="432.80" y1="101.60" x2="432.80" y2="116.00" stroke="#2a7bbf" stroke-width="2.4"/>
<line x1="428.60" y1="101.60" x2="437.00" y2="101.60" stroke="#2a7bbf" stroke-width="2.0"/>
<line x1="428.60" y1="116.00" x2="437.00" y2="116.00" stroke="#2a7bbf" stroke-width="2.0"/>
<line x1="446.50" y1="123.90" x2="446.50" y2="125.50" stroke="#2a7bbf" stroke-width="2.4"/>
<line x1="442.30" y1="123.90" x2="450.70" y2="123.90" stroke="#2a7bbf" stroke-width="2.0"/>
<line x1="442.30" y1="125.50" x2="450.70" y2="125.50" stroke="#2a7bbf" stroke-width="2.0"/>
<line x1="472.40" y1="155.70" x2="472.40" y2="156.90" stroke="#2a7bbf" stroke-width="2.4"/>
<line x1="468.20" y1="155.70" x2="476.60" y2="155.70" stroke="#2a7bbf" stroke-width="2.0"/>
<line x1="468.20" y1="156.90" x2="476.60" y2="156.90" stroke="#2a7bbf" stroke-width="2.0"/>
<line x1="517.80" y1="185.00" x2="517.80" y2="186.00" stroke="#2a7bbf" stroke-width="2.4"/>
<line x1="513.60" y1="185.00" x2="522.00" y2="185.00" stroke="#2a7bbf" stroke-width="2.0"/>
<line x1="513.60" y1="186.00" x2="522.00" y2="186.00" stroke="#2a7bbf" stroke-width="2.0"/>
<line x1="556.60" y1="197.50" x2="556.60" y2="198.50" stroke="#2a7bbf" stroke-width="2.4"/>
<line x1="552.40" y1="197.50" x2="560.80" y2="197.50" stroke="#2a7bbf" stroke-width="2.0"/>
<line x1="552.40" y1="198.50" x2="560.80" y2="198.50" stroke="#2a7bbf" stroke-width="2.0"/>
<line x1="589.10" y1="210.70" x2="589.10" y2="211.70" stroke="#2a7bbf" stroke-width="2.4"/>
<line x1="584.90" y1="210.70" x2="593.30" y2="210.70" stroke="#2a7bbf" stroke-width="2.0"/>
<line x1="584.90" y1="211.70" x2="593.30" y2="211.70" stroke="#2a7bbf" stroke-width="2.0"/>
<line x1="617.00" y1="217.10" x2="617.00" y2="218.10" stroke="#2a7bbf" stroke-width="2.4"/>
<line x1="612.80" y1="217.10" x2="621.20" y2="217.10" stroke="#2a7bbf" stroke-width="2.0"/>
<line x1="612.80" y1="218.10" x2="621.20" y2="218.10" stroke="#2a7bbf" stroke-width="2.0"/>
<line x1="640.80" y1="223.00" x2="640.80" y2="224.00" stroke="#2a7bbf" stroke-width="2.4"/>
<line x1="636.60" y1="223.00" x2="645.00" y2="223.00" stroke="#2a7bbf" stroke-width="2.0"/>
<line x1="636.60" y1="224.00" x2="645.00" y2="224.00" stroke="#2a7bbf" stroke-width="2.0"/>
<circle cx="427.20" cy="80.10" r="3.85" fill="#44a0e3" stroke="#1f6fb6" stroke-width="1.2"/>
<circle cx="432.80" cy="108.80" r="3.85" fill="#44a0e3" stroke="#1f6fb6" stroke-width="1.2"/>
<circle cx="446.50" cy="124.70" r="3.85" fill="#44a0e3" stroke="#1f6fb6" stroke-width="1.2"/>
<circle cx="472.40" cy="156.30" r="3.85" fill="#44a0e3" stroke="#1f6fb6" stroke-width="1.2"/>
<circle cx="517.80" cy="185.50" r="3.85" fill="#44a0e3" stroke="#1f6fb6" stroke-width="1.2"/>
<circle cx="556.60" cy="198.00" r="3.85" fill="#44a0e3" stroke="#1f6fb6" stroke-width="1.2"/>
<circle cx="589.10" cy="211.20" r="3.85" fill="#44a0e3" stroke="#1f6fb6" stroke-width="1.2"/>
<circle cx="617.00" cy="217.60" r="3.85" fill="#44a0e3" stroke="#1f6fb6" stroke-width="1.2"/>
<circle cx="640.80" cy="223.50" r="3.85" fill="#44a0e3" stroke="#1f6fb6" stroke-width="1.2"/>
<rect x="502.8" y="63.4" width="128.8" height="81.0" fill="#fff" stroke="#4a4a4a" stroke-width="1.1"/>
<path d="M533.60,102.60 L533.81,102.15 L534.03,101.61 L534.24,101.03 L534.45,100.42 L534.67,99.80 L534.88,99.17 L535.09,98.53 L535.31,97.90 L535.52,97.26 L535.74,96.64 L535.95,96.02 L536.16,95.43 L536.38,94.84 L536.59,94.28 L536.80,93.74 L537.02,93.22 L537.23,92.74 L537.44,92.28 L537.66,91.85 L537.87,91.45 L538.08,91.09 L538.30,90.77 L538.51,90.48 L538.73,90.23 L538.94,90.03 L539.15,89.86 L539.37,89.73 L539.58,89.65 L539.79,89.61 L540.01,89.61 L540.22,89.65 L540.43,89.73 L540.65,89.86 L540.86,90.03 L541.07,90.23 L541.29,90.48 L541.50,90.77 L541.72,91.09 L541.93,91.45 L542.14,91.85 L542.36,92.28 L542.57,92.74 L542.78,93.22 L543.00,93.74 L543.21,94.28 L543.42,94.84 L543.64,95.43 L543.85,96.02 L544.06,96.64 L544.28,97.26 L544.49,97.90 L544.71,98.53 L544.92,99.17 L545.13,99.80 L545.35,100.42 L545.56,101.03 L545.77,101.61 L545.99,102.15 L546.20,102.60 Z" fill="#2a7ab8"/>
<path d="M549.40,102.60 L549.66,101.39 L549.92,99.91 L550.17,98.33 L550.43,96.67 L550.69,94.98 L550.95,93.25 L551.20,91.52 L551.46,89.79 L551.72,88.07 L551.98,86.37 L552.23,84.70 L552.49,83.06 L552.75,81.48 L553.01,79.95 L553.26,78.47 L553.52,77.07 L553.78,75.74 L554.04,74.49 L554.29,73.32 L554.55,72.25 L554.81,71.27 L555.07,70.38 L555.33,69.60 L555.58,68.93 L555.84,68.36 L556.10,67.90 L556.36,67.56 L556.61,67.33 L556.87,67.21 L557.13,67.21 L557.39,67.33 L557.64,67.56 L557.90,67.90 L558.16,68.36 L558.42,68.93 L558.67,69.60 L558.93,70.38 L559.19,71.27 L559.45,72.25 L559.71,73.32 L559.96,74.49 L560.22,75.74 L560.48,77.07 L560.74,78.47 L560.99,79.95 L561.25,81.48 L561.51,83.06 L561.77,84.70 L562.02,86.37 L562.28,88.07 L562.54,89.79 L562.80,91.52 L563.05,93.25 L563.31,94.98 L563.57,96.67 L563.83,98.33 L564.08,99.91 L564.34,101.39 L564.60,102.60 Z" fill="#d62a1f"/>
<line x1="517.4" y1="102.5" x2="591" y2="102.5" stroke="#111" stroke-width="1.6"/>
<path d="M589.6,98.6 L596.4,102.5 L589.6,106.4 Z" fill="#111"/>
<path d="M540.7,103 V113.5 M556.1,103 V113.5 M540.7,107.8 H556.1" stroke="#111" stroke-width="1.45" fill="none"/>
<text x="600.60" y="109.00" font-size="26" text-anchor="start" font-weight="normal" font-style="italic" style="stroke-width:0.1px">t</text>
<text x="538.50" y="133.40" font-size="24.5" text-anchor="start" font-weight="normal" font-style="italic" style="stroke-width:0.15px">T</text>
<text x="552.60" y="141.80" font-size="13.5" text-anchor="start" font-weight="normal" font-style="normal" style="stroke-width:0.05px">delay</text>
<rect x="418.8" y="44.9" width="242.3" height="220.20000000000002" fill="none" stroke="#0a0a0a" stroke-width="1.75"/>
<line x1="418.56" y1="237.8" x2="660.3000000000001" y2="237.8" stroke="#7a7a7a" stroke-width="1.5" stroke-dasharray="5.0,2.24"/>
<text transform="translate(0,265.03) scale(1,1.035) translate(0,-265.03)" x="414.00" y="270.40" font-size="15" text-anchor="end">0.0</text>
<text transform="translate(0,237.53) scale(1,1.035) translate(0,-237.53)" x="414.00" y="242.90" font-size="15" text-anchor="end">2.0</text>
<line x1="418.8" y1="210.10" x2="423.3" y2="210.10" stroke="#1a1a1a" stroke-width="1.3"/>
<text transform="translate(0,210.03) scale(1,1.035) translate(0,-210.03)" x="414.00" y="215.40" font-size="15" text-anchor="end">4.0</text>
<line x1="418.8" y1="182.60" x2="423.3" y2="182.60" stroke="#1a1a1a" stroke-width="1.3"/>
<text transform="translate(0,182.53) scale(1,1.035) translate(0,-182.53)" x="414.00" y="187.90" font-size="15" text-anchor="end">6.0</text>
<line x1="418.8" y1="155.10" x2="423.3" y2="155.10" stroke="#1a1a1a" stroke-width="1.3"/>
<text transform="translate(0,155.03) scale(1,1.035) translate(0,-155.03)" x="414.00" y="160.40" font-size="15" text-anchor="end">8.0</text>
<line x1="418.8" y1="127.60" x2="423.3" y2="127.60" stroke="#1a1a1a" stroke-width="1.3"/>
<text transform="translate(0,127.53) scale(1,1.035) translate(0,-127.53)" x="414.00" y="132.90" font-size="15" text-anchor="end">10.0</text>
<line x1="418.8" y1="100.10" x2="423.3" y2="100.10" stroke="#1a1a1a" stroke-width="1.3"/>
<text transform="translate(0,100.03) scale(1,1.035) translate(0,-100.03)" x="414.00" y="105.40" font-size="15" text-anchor="end">12.0</text>
<line x1="418.8" y1="72.60" x2="423.3" y2="72.60" stroke="#1a1a1a" stroke-width="1.3"/>
<text transform="translate(0,72.53) scale(1,1.035) translate(0,-72.53)" x="414.00" y="77.90" font-size="15" text-anchor="end">14.0</text>
<text transform="translate(0,45.03) scale(1,1.035) translate(0,-45.03)" x="414.00" y="50.40" font-size="15" text-anchor="end">16.0</text>
<text transform="translate(0,275.63) scale(1,1.035) translate(0,-275.63)" x="419.20" y="281.00" font-size="15" text-anchor="middle">0</text>
<line x1="495.30" y1="265.1" x2="495.30" y2="260.90000000000003" stroke="#1a1a1a" stroke-width="1.3"/>
<text transform="translate(0,275.63) scale(1,1.035) translate(0,-275.63)" x="495.30" y="281.00" font-size="15" text-anchor="middle">20</text>
<line x1="571.40" y1="265.1" x2="571.40" y2="260.90000000000003" stroke="#1a1a1a" stroke-width="1.3"/>
<text transform="translate(0,275.63) scale(1,1.035) translate(0,-275.63)" x="571.40" y="281.00" font-size="15" text-anchor="middle">40</text>
<line x1="647.50" y1="265.1" x2="647.50" y2="260.90000000000003" stroke="#1a1a1a" stroke-width="1.3"/>
<text transform="translate(0,275.63) scale(1,1.035) translate(0,-275.63)" x="647.50" y="281.00" font-size="15" text-anchor="middle">60</text>
<text x="538.50" y="301.50" font-size="17.5" text-anchor="middle" font-weight="normal" font-style="normal" >Anti-Stokes scattering probability (%)</text>
<g transform="translate(372.0,176.0) rotate(-90)"><text x="0" y="0" font-size="18.5" font-style="italic">g</text><text x="13.6" y="-9.6" font-size="12.8">(2)</text><text x="10.9" y="4.6" font-size="14.2" font-style="italic" textLength="29.2" lengthAdjust="spacingAndGlyphs">S, as</text></g>
</svg>
</body></html>
